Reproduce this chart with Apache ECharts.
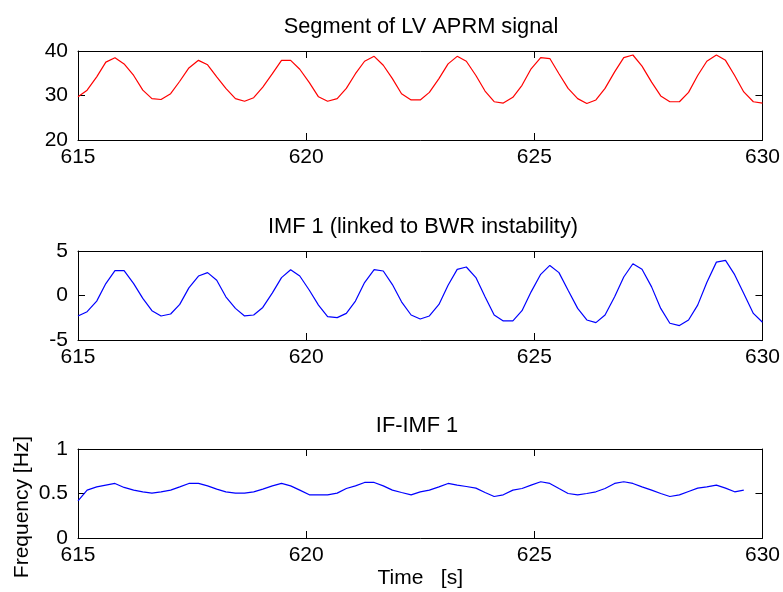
<!DOCTYPE html>
<html>
<head>
<meta charset="utf-8">
<script src="https://cdn.jsdelivr.net/npm/echarts@6/dist/echarts.min.js"></script>
<style>
  html, body { margin: 0; padding: 0; background: #fff; }
  #chart { width: 783px; height: 592px; }
</style>
</head>
<body>
<div id="chart"></div>
<script>
// sample times [s], shared by the three panels
const times = [
  615.00, 615.20, 615.41, 615.61, 615.81, 616.01, 616.22, 616.42, 616.62, 616.82,
  617.03, 617.23, 617.43, 617.64, 617.84, 618.04, 618.24, 618.45, 618.65, 618.85,
  619.05, 619.26, 619.46, 619.66, 619.86, 620.07, 620.27, 620.47, 620.68, 620.88,
  621.08, 621.28, 621.49, 621.69, 621.89, 622.09, 622.30, 622.50, 622.70, 622.91,
  623.11, 623.31, 623.51, 623.72, 623.92, 624.12, 624.32, 624.53, 624.73, 624.93,
  625.14, 625.34, 625.54, 625.74, 625.95, 626.15, 626.35, 626.55, 626.76, 626.96,
  627.16, 627.36, 627.57, 627.77, 627.97, 628.18, 628.38, 628.58, 628.78, 628.99,
  629.19, 629.39, 629.59, 629.80, 630.00
];

// LV APRM signal
const aprm = [
  29.7, 31.2, 34.2, 37.5, 38.5, 37.1, 34.5, 31.2, 29.3, 29.1,
  30.4, 33.2, 36.2, 37.9, 36.9, 34.2, 31.6, 29.3, 28.7, 29.5,
  31.9, 34.9, 37.9, 37.9, 35.9, 32.9, 29.7, 28.7, 29.3, 31.6,
  34.9, 37.7, 38.8, 36.8, 33.8, 30.4, 29.0, 29.0, 30.7, 33.8,
  37.1, 38.8, 37.7, 34.5, 31.0, 28.6, 28.3, 29.6, 32.3, 36.0,
  38.5, 38.3, 34.9, 31.6, 29.3, 28.2, 29.0, 31.6, 35.3, 38.5,
  39.1, 36.6, 33.0, 29.9, 28.6, 28.6, 30.7, 34.5, 37.7, 39.1,
  37.9, 34.5, 30.8, 28.6, 28.3
];

// IMF 1
const imf1 = [
  -2.30, -1.82, -0.63, 1.34, 2.79, 2.79, 1.34, -0.33, -1.71, -2.30,
  -2.08, -1.00, 0.86, 2.19, 2.57, 1.71, -0.15, -1.45, -2.30, -2.19,
  -1.34, 0.30, 2.01, 2.90, 2.19, 0.59, -1.08, -2.38, -2.49, -2.01,
  -0.63, 1.45, 2.90, 2.75, 1.23, -0.71, -2.19, -2.64, -2.30, -1.00,
  1.15, 2.94, 3.20, 2.01, -0.15, -2.19, -2.86, -2.86, -1.71, 0.41,
  2.38, 3.38, 2.57, 0.59, -1.45, -2.75, -3.05, -2.19, -0.15, 2.08,
  3.57, 2.94, 0.97, -1.45, -3.12, -3.38, -2.75, -1.08, 1.45, 3.75,
  3.94, 2.34, 0.22, -2.01, -3.01
];

// instantaneous frequency of IMF 1 [Hz]
const ifImf1 = [
  0.417, 0.538, 0.575, 0.594, 0.613, 0.568, 0.538, 0.519, 0.504, 0.519,
  0.538, 0.575, 0.613, 0.613, 0.586, 0.549, 0.519, 0.504, 0.504, 0.519,
  0.549, 0.586, 0.613, 0.586, 0.538, 0.485, 0.485, 0.485, 0.504, 0.556,
  0.586, 0.624, 0.624, 0.586, 0.538, 0.511, 0.485, 0.519, 0.538, 0.575,
  0.613, 0.594, 0.579, 0.560, 0.511, 0.466, 0.485, 0.538, 0.556, 0.594,
  0.632, 0.613, 0.556, 0.500, 0.485, 0.500, 0.519, 0.556, 0.613, 0.632,
  0.613, 0.575, 0.538, 0.500, 0.466, 0.485, 0.523, 0.560, 0.575, 0.594,
  0.560, 0.519, 0.538
];

// tick labels
const xTicks = [615, 620, 625, 630];
const aprmTicks = [20, 30, 40];
const imfTicks = [-5, 0, 5];
const freqTicks = [0, 0.5, 1];

const titles = ["Segment of LV APRM signal", "IMF 1 (linked to BWR instability)", "IF-IMF 1"];

const FONT = "'Liberation Sans', Arial, Helvetica, sans-serif";
const FS = 21;

let chart = echarts.init(document.getElementById("chart"), null, { renderer: "canvas" });

const gridTops = [51, 251, 449];
const panels = [
  { ticks: aprmTicks, data: aprm, color: "#ff0000" },
  { ticks: imfTicks, data: imf1, color: "#0000ff" },
  { ticks: freqTicks, data: ifImf1, color: "#0000ff" }
];

let grid = [], xAxis = [], yAxis = [], series = [], title = [];
const axisLine = { show: true, onZero: false, lineStyle: { color: "#000", width: 1 } };
const tick = { show: true, inside: true, length: 7, lineStyle: { color: "#000", width: 1 } };

panels.forEach((p, k) => {
  grid.push({ left: 78, width: 689, top: gridTops[k], height: 89 });
  // bottom x axis with labels
  xAxis.push({
    type: "value", gridIndex: k, position: "bottom",
    min: xTicks[0], max: xTicks[xTicks.length - 1], interval: xTicks[1] - xTicks[0],
    axisLine: axisLine, axisTick: tick, splitLine: { show: false },
    axisLabel: { color: "#000", fontSize: FS, fontFamily: FONT, margin: 7 },
    name: k === 2 ? "Time   [s]" : "",
    nameLocation: "middle", nameGap: 30,
    nameTextStyle: { color: "#000", fontSize: FS, fontFamily: FONT }
  });
  // top x axis, ticks only (box)
  xAxis.push({
    type: "value", gridIndex: k, position: "top",
    min: xTicks[0], max: xTicks[xTicks.length - 1], interval: xTicks[1] - xTicks[0],
    axisLine: axisLine, axisTick: tick, splitLine: { show: false },
    axisLabel: { show: false }
  });
  const t = p.ticks;
  yAxis.push({
    type: "value", gridIndex: k, position: "left",
    min: t[0], max: t[t.length - 1], interval: t[1] - t[0],
    axisLine: axisLine, axisTick: tick, splitLine: { show: false },
    axisLabel: { color: "#000", fontSize: FS, fontFamily: FONT, margin: 10 }
  });
  yAxis.push({
    type: "value", gridIndex: k, position: "right",
    min: t[0], max: t[t.length - 1], interval: t[1] - t[0],
    axisLine: axisLine, axisTick: tick, splitLine: { show: false },
    axisLabel: { show: false }
  });
  series.push({
    type: "line",
    xAxisIndex: 2 * k, yAxisIndex: 2 * k,
    data: p.data.map((v, i) => [times[i], v]),
    showSymbol: false,
    lineStyle: { color: p.color, width: 1.2 },
    itemStyle: { color: p.color },
    silent: true
  });
});

title = [
  { text: titles[0], left: 416, top: 11 },
  { text: titles[1], left: 418, top: 211 },
  { text: titles[2], left: 412, top: 410 }
].map(o => Object.assign(o, {
  textAlign: "center",
  textStyle: { color: "#000", fontSize: 21.8, fontWeight: "normal", fontFamily: FONT }
}));

let option = {
  backgroundColor: "#fff",
  animation: false,
  title: title,
  grid: grid,
  xAxis: xAxis,
  yAxis: yAxis,
  series: series,
  graphic: [{
    type: "text",
    x: 22, y: 507,
    rotation: Math.PI / 2,
    style: {
      text: "Frequency [Hz]",
      fill: "#000",
      font: FS + "px " + FONT,
      align: "center",
      verticalAlign: "middle"
    }
  }]
};
chart.setOption(option);
</script>
</body>
</html>
